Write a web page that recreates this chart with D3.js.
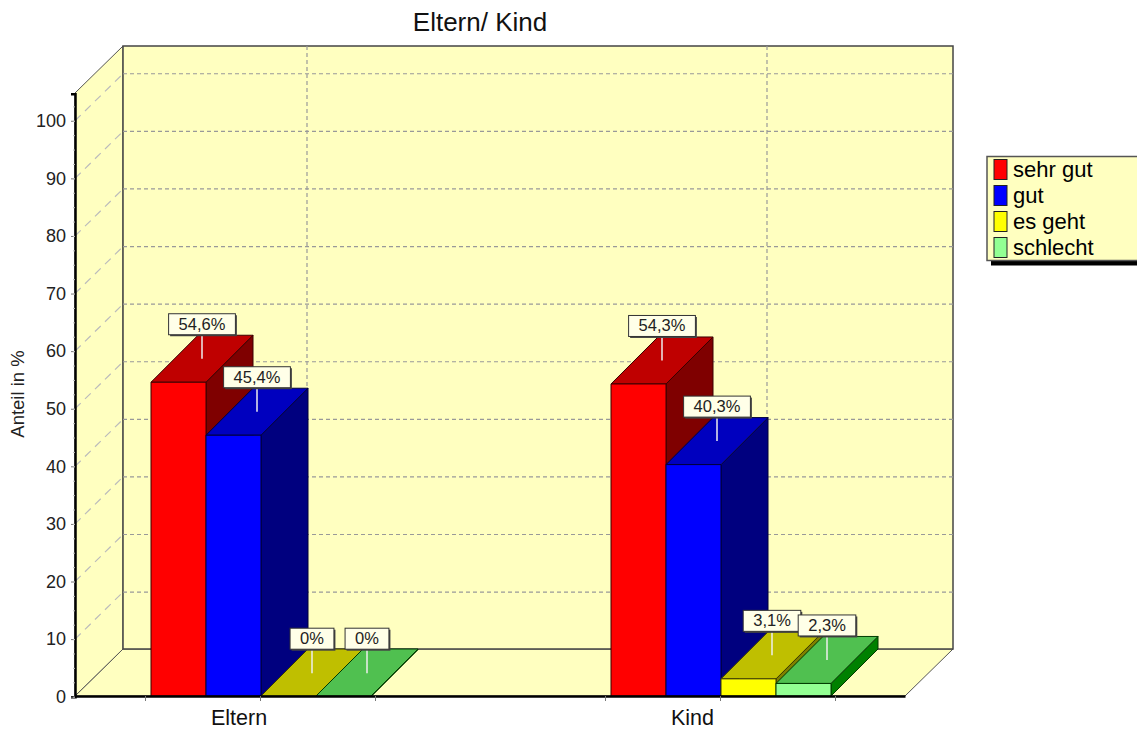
<!DOCTYPE html>
<html>
<head lang="en">
    <meta charset="UTF-8">
    <title>Eltern/ Kind</title>
    <script src="https://cdnjs.cloudflare.com/ajax/libs/d3/7.8.5/d3.min.js"></script>
    <style>
        html, body { margin: 0; padding: 0; background: #fff; }
        svg { display: block; font-family: "Liberation Sans", Arial, sans-serif; }
    </style>
</head>
<body>
<div id="chart"></div>
<script>
    var categories = ['Eltern', 'Kind'];
    var seriesNames = ['sehr gut', 'gut', 'es geht', 'schlecht'];
    var sehrGut = [54.6, 54.3];
    var gut = [45.4, 40.3];
    var esGeht = [0, 3.1];
    var schlecht = [0, 2.3];
    var yTicks = [0, 10, 20, 30, 40, 50, 60, 70, 80, 90, 100];
    var yMinorTicks = d3.range(0, 105, 2.5);

    var frontColors = ['#ff0000', '#0000ff', '#ffff00', '#93ff93'];
    var topColors = ['#bf0000', '#0000bf', '#bfbf00', '#50c050'];
    var sideColors = ['#7f0000', '#00007f', '#7f7f00', '#008000'];
    var edgeColors = ['#3a0000', '#00003a', '#3a3a00', '#003a00'];
    var seriesValues = [sehrGut, gut, esGeht, schlecht];

    var width = 1137, height = 731;
    var left = 75, right = 905, floorY = 696, topY = 93;
    var dx = 48, dy = -47, barDx = 47;
    var wallFill = '#ffffc0';

    var svg = d3.select('#chart').append('svg')
        .attr('width', width)
        .attr('height', height);

    var y = d3.scaleLinear().domain([0, 104.7]).range([floorY + 0.7, topY + 0.7]);
    var x = d3.scalePoint().domain(categories).range([261, 721]);
    var inner = d3.scaleBand().domain(seriesNames).range([-110, 110]);

    function poly(points) {
        return points.map(function (p) { return p.join(','); }).join(' ');
    }

    // walls
    var walls = svg.append('g');
    walls.append('polygon')
        .attr('points', poly([[left, floorY], [left + dx, floorY + dy], [right + dx, floorY + dy], [right, floorY]]))
        .attr('fill', wallFill).attr('stroke', '#555').attr('stroke-width', 1);
    walls.append('polygon')
        .attr('points', poly([[left, topY], [left + dx, topY + dy], [left + dx, floorY + dy], [left, floorY]]))
        .attr('fill', wallFill).attr('stroke', '#555').attr('stroke-width', 1);
    walls.append('rect')
        .attr('x', left + dx).attr('y', topY + dy)
        .attr('width', right - left).attr('height', floorY - topY)
        .attr('fill', wallFill).attr('stroke', '#444').attr('stroke-width', 1.5);

    // grid
    var grid = svg.append('g')
        .attr('fill', 'none')
        .attr('stroke', '#999')
        .attr('stroke-width', 1.2)
        .attr('stroke-dasharray', '4,3');
    yTicks.slice(1).forEach(function (t) {
        grid.append('line')
            .attr('x1', left + dx).attr('x2', right + dx)
            .attr('y1', y(t) + dy).attr('y2', y(t) + dy);
        grid.append('line')
            .attr('x1', left).attr('x2', left + dx)
            .attr('y1', y(t)).attr('y2', y(t) + dy)
            .attr('stroke', '#bbb')
            .attr('stroke-dasharray', '8,6');
    });
    categories.forEach(function (c) {
        grid.append('line')
            .attr('x1', x(c) + dx - 2).attr('x2', x(c) + dx - 2)
            .attr('y1', topY + dy).attr('y2', floorY + dy);
    });

    // bars
    var bars = svg.append('g');
    var labels = [];
    categories.forEach(function (c, ci) {
        seriesNames.forEach(function (s, si) {
            var v = seriesValues[si][ci];
            var x0 = x(c) + inner(s);
            var x1 = x0 + inner.bandwidth();
            var yTop = y(v);
            var g = bars.append('g')
                .attr('stroke', edgeColors[si])
                .attr('stroke-width', 1)
                .attr('stroke-linejoin', 'round');
            g.append('polygon')
                .attr('points', poly([[x1, floorY], [x1 + barDx, floorY + dy], [x1 + barDx, yTop + dy], [x1, yTop]]))
                .attr('fill', sideColors[si]);
            g.append('polygon')
                .attr('points', poly([[x0, Math.min(yTop, floorY)], [x0 + barDx, Math.min(yTop, floorY) + dy], [x1 + barDx, Math.min(yTop, floorY) + dy], [x1, Math.min(yTop, floorY)]]))
                .attr('fill', topColors[si]);
            if (v > 0) {
                g.append('rect')
                    .attr('x', x0).attr('y', yTop)
                    .attr('width', x1 - x0).attr('height', floorY - yTop)
                    .attr('fill', frontColors[si]);
            }
            labels.push({
                text: String(v).replace('.', ',') + '%',
                x: (x0 + x1 + barDx) / 2,
                y: yTop + dy / 2
            });
        });
    });

    // value labels
    var lab = svg.append('g').selectAll('g')
        .data(labels)
        .enter()
        .append('g')
        .attr('transform', function (d) { return 'translate(' + d.x + ',' + d.y + ')'; });
    lab.append('line')
        .attr('x1', 0).attr('x2', 0)
        .attr('y1', 0).attr('y2', -24)
        .attr('stroke', '#eeeeee')
        .attr('stroke-width', 1.5);
    lab.append('text')
        .attr('text-anchor', 'middle')
        .attr('y', -29)
        .attr('font-size', 16.5)
        .attr('fill', '#222')
        .text(function (d) { return d.text; });
    lab.each(function () {
        var g = d3.select(this);
        var w = g.select('text').node().getComputedTextLength() + 20;
        g.insert('rect', 'text')
            .attr('x', -w / 2 + 1.5).attr('y', -43.5)
            .attr('width', w).attr('height', 21)
            .attr('fill', '#444');
        g.insert('rect', 'text')
            .attr('x', -w / 2).attr('y', -45)
            .attr('width', w).attr('height', 21)
            .attr('fill', '#ffffe8')
            .attr('stroke', '#333')
            .attr('stroke-width', 1);
    });

    // axes
    var yAxis = svg.append('g')
        .attr('transform', 'translate(' + left + ',0)')
        .call(d3.axisLeft(y).tickValues(yTicks).tickSize(4).tickPadding(5));
    yAxis.select('.domain').attr('stroke', '#000').attr('stroke-width', 2.5);
    yAxis.selectAll('.tick line').attr('stroke', '#777');
    yAxis.selectAll('.tick text')
        .attr('font-family', '"Liberation Sans", Arial, sans-serif')
        .attr('font-size', 18)
        .attr('fill', '#222');

    svg.append('g')
        .attr('transform', 'translate(' + left + ',0)')
        .call(d3.axisLeft(y).tickValues(yMinorTicks).tickSize(2).tickFormat(''))
        .call(function (g) { g.select('.domain').remove(); })
        .selectAll('.tick line').attr('stroke', '#bbb');

    var xBase = d3.scaleIdentity().domain([left, right]).range([left, right]);
    var xTickPos = [];
    categories.forEach(function (c) {
        xTickPos.push(x(c) - 116, x(c) - 1, x(c) + 114);
    });
    var xAxis = svg.append('g')
        .attr('transform', 'translate(0,' + floorY + ')')
        .call(d3.axisBottom(xBase).tickValues(xTickPos).tickSize(5).tickSizeOuter(0).tickFormat(''));
    xAxis.select('.domain').attr('stroke', '#000').attr('stroke-width', 2.5);
    xAxis.selectAll('.tick line').attr('stroke', '#777');

    svg.append('g').selectAll('text')
        .data(categories)
        .enter()
        .append('text')
        .attr('x', function (d) { return x(d) - 50; })
        .attr('y', 725)
        .attr('font-size', 21.5)
        .attr('fill', '#111')
        .text(function (d) { return d; });

    // title and y axis name
    svg.append('text')
        .attr('x', 480).attr('y', 31)
        .attr('text-anchor', 'middle')
        .attr('font-size', 26)
        .attr('fill', '#111')
        .text('Eltern/ Kind');
    svg.append('text')
        .attr('transform', 'translate(24,394) rotate(-90)')
        .attr('text-anchor', 'middle')
        .attr('font-size', 18.5)
        .attr('fill', '#222')
        .text('Anteil in %');

    // legend
    var legend = svg.append('g');
    legend.append('rect')
        .attr('x', 991).attr('y', 161)
        .attr('width', 150).attr('height', 104.5)
        .attr('fill', '#000');
    legend.append('rect')
        .attr('x', 987).attr('y', 156.5)
        .attr('width', 155).attr('height', 104)
        .attr('fill', wallFill)
        .attr('stroke', '#555')
        .attr('stroke-width', 1.5);
    var rows = legend.selectAll('g.row')
        .data(seriesNames)
        .enter()
        .append('g')
        .attr('class', 'row')
        .attr('transform', function (d, i) { return 'translate(994,' + (159.5 + i * 26) + ')'; });
    rows.append('rect')
        .attr('width', 13).attr('height', 20)
        .attr('fill', function (d, i) { return frontColors[i]; })
        .attr('stroke', '#222')
        .attr('stroke-width', 1);
    rows.append('text')
        .attr('x', 19).attr('y', 17)
        .attr('font-size', 22)
        .attr('fill', '#000')
        .text(function (d) { return d; });
</script>
</body>
</html>
